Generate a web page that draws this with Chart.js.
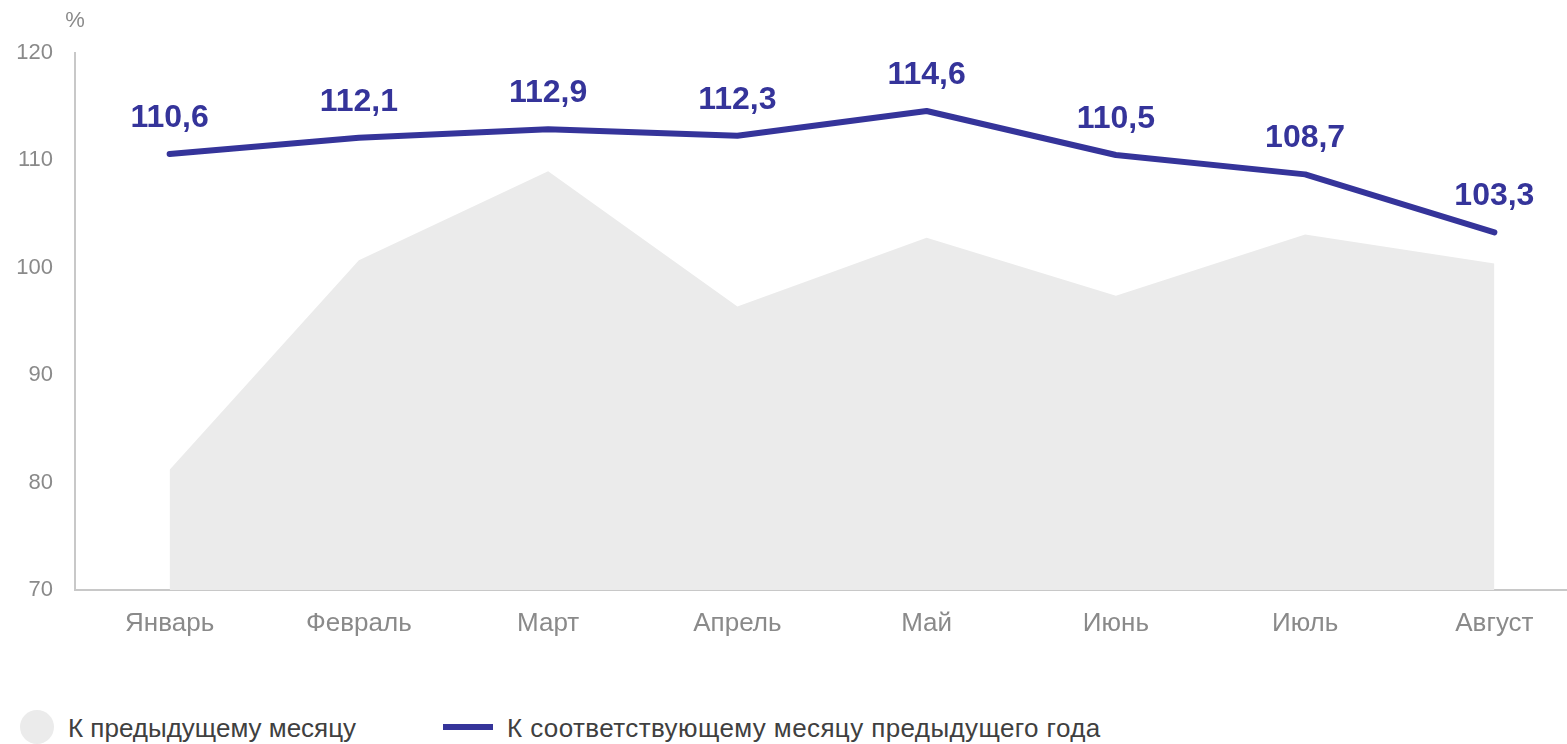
<!DOCTYPE html>
<html lang="ru">
<head>
<meta charset="utf-8">
<title>Индексы</title>
<script src="https://cdn.jsdelivr.net/npm/chart.js@4.4.1/dist/chart.umd.min.js"></script>
<style>
  html, body { margin: 0; padding: 0; background: #fff; overflow: hidden; width: 1567px; height: 744px; }
  #wrap { position: absolute; left: 0; top: 0; width: 1589px; height: 660px; }
  .lg { position: absolute; font-family: Arial, "Liberation Sans", sans-serif; font-size: 26px; color: #404040; line-height: 30px; white-space: nowrap; }
  .dot { position: absolute; left: 20px; top: 710px; width: 34px; height: 34px; border-radius: 50%; background: #ebebeb; }
  .bar { position: absolute; left: 443px; top: 724px; width: 50px; height: 6px; background: #35349a; }
</style>
</head>
<body>
<div id="wrap"><canvas id="indexChart"></canvas></div>
<div class="dot"></div>
<div class="lg" style="left:68px; top:713px;">К предыдущему месяцу</div>
<div class="bar"></div>
<div class="lg" style="left:507px; top:713px; letter-spacing:0.4px;">К соответствующему месяцу предыдущего года</div>
<script>
// месяцы
const months = ['Январь', 'Февраль', 'Март', 'Апрель', 'Май', 'Июнь', 'Июль', 'Август'];
// к предыдущему месяцу, %
const prevMonth = [81.2, 100.7, 109.0, 96.4, 102.8, 97.4, 103.1, 100.4];
// к соответствующему месяцу предыдущего года, %
const prevYear = [110.6, 112.1, 112.9, 112.3, 114.6, 110.5, 108.7, 103.3];
const yTicks = [70, 80, 90, 100, 110, 120];

const FONT = "Arial, 'Liberation Sans', sans-serif";
const BLUE = '#35349a';
const GREY_TXT = '#8a8a8a';

// подписи значений над линией и знак % над осью
const labelsPlugin = {
    id: 'valueLabels',
    afterDatasetsDraw(chart) {
        const ctx = chart.ctx;
        const meta = chart.getDatasetMeta(1);
        ctx.save();
        ctx.font = 'bold 32px ' + FONT;
        ctx.fillStyle = BLUE;
        ctx.textAlign = 'center';
        ctx.textBaseline = 'middle';
        meta.data.forEach((pt, i) => {
            ctx.fillText(prevYear[i].toFixed(1).replace('.', ','), pt.x, pt.y - 36);
        });
        ctx.font = '22px ' + FONT;
        ctx.fillStyle = GREY_TXT;
        ctx.fillText('%', chart.chartArea.left, 21);
        ctx.restore();
    }
};

new Chart(document.getElementById('indexChart'), {
    type: 'line',
    data: {
        labels: months,
        datasets: [
            {
                label: 'К предыдущему месяцу',
                data: prevMonth,
                fill: 'start',
                backgroundColor: '#ebebeb',
                borderWidth: 0,
                pointRadius: 0,
                tension: 0,
                order: 2
            },
            {
                label: 'К соответствующему месяцу предыдущего года',
                data: prevYear,
                fill: false,
                borderColor: BLUE,
                borderWidth: 6,
                borderCapStyle: 'round',
                borderJoinStyle: 'round',
                pointRadius: 0,
                tension: 0,
                order: 1
            }
        ]
    },
    options: {
        responsive: true,
        maintainAspectRatio: false,
        animation: false,
        layout: { padding: { top: 53, left: 16, right: 0, bottom: 22 } },
        plugins: {
            legend: { display: false },
            tooltip: { enabled: false }
        },
        scales: {
            x: {
                offset: true,
                grid: { display: false, drawTicks: false },
                border: { display: true, color: '#c8c8c8', width: 2 },
                ticks: { color: GREY_TXT, font: { family: FONT, size: 26 }, padding: 18, maxRotation: 0 },
                afterFit: (scale) => { scale.height = 48; scale.paddingLeft = 0; scale.paddingRight = 0; }
            },
            y: {
                min: 70,
                max: 120,
                afterBuildTicks: (scale) => { scale.ticks = yTicks.map(v => ({ value: v })); },
                grid: { display: false, drawTicks: false },
                border: { display: true, color: '#c8c8c8', width: 2 },
                ticks: { color: GREY_TXT, font: { family: FONT, size: 22 }, padding: 22 },
                afterFit: (scale) => { scale.width = 59; }
            }
        }
    },
    plugins: [labelsPlugin]
});
</script>
</body>
</html>
